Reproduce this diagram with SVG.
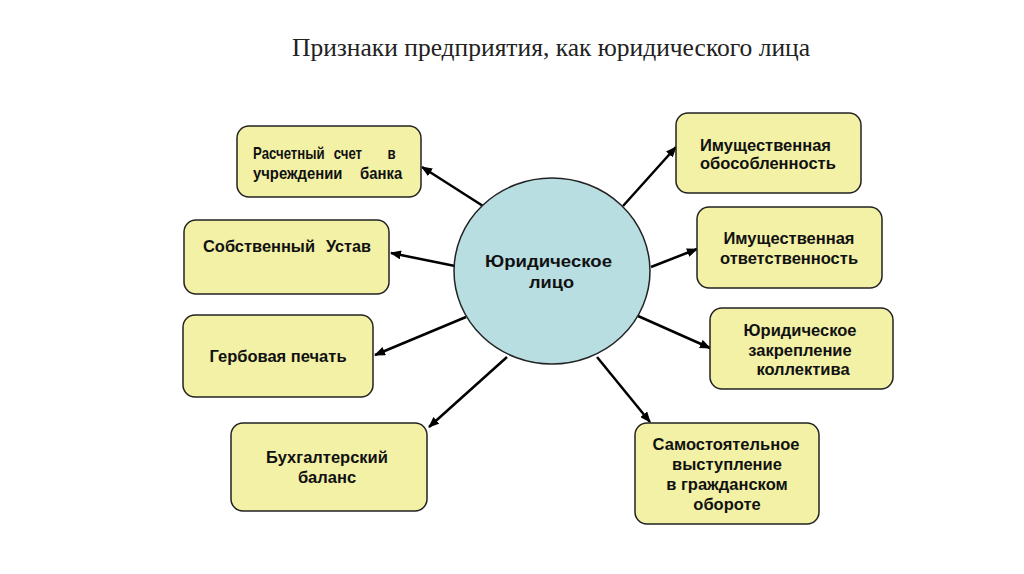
<svg xmlns="http://www.w3.org/2000/svg" width="1024" height="574" viewBox="0 0 1024 574">
<defs>
<marker id="ah" markerWidth="11" markerHeight="9" refX="10" refY="4.5" orient="auto" markerUnits="userSpaceOnUse">
<path d="M0,0 L11,4.5 L0,9 Z" fill="#000"/>
</marker>
<style>
.box{fill:#F3F1A6;stroke:#222;stroke-width:1.5}
.t{font-family:"Liberation Sans",Arial,sans-serif;font-weight:bold;font-size:16.5px;fill:#111}
.c{text-anchor:middle}
.ln{stroke:#000;stroke-width:2.5;fill:none;marker-end:url(#ah)}
</style>
</defs>
<rect width="1024" height="574" fill="#fff"/>
<text x="551" y="56" text-anchor="middle" font-family="Liberation Serif,Times New Roman,serif" font-size="25.5" fill="#222">Признаки предприятия, как юридического лица</text>
<g id="connectors">
<line class="ln" x1="483" y1="206" x2="422" y2="167"/>
<line class="ln" x1="455" y1="266" x2="391" y2="253"/>
<line class="ln" x1="466" y1="317" x2="375" y2="355"/>
<line class="ln" x1="507" y1="357" x2="429" y2="427"/>
<line class="ln" x1="623" y1="206" x2="676" y2="147"/>
<line class="ln" x1="651" y1="267" x2="697" y2="249"/>
<line class="ln" x1="638" y1="316" x2="710" y2="348"/>
<line class="ln" x1="597" y1="357" x2="650" y2="422"/>
</g>
<g id="center">
<ellipse cx="552" cy="271" rx="98" ry="93" fill="#B8DEE2" stroke="#222" stroke-width="1.5"/>
<text class="t" x="485" y="267" font-size="19" textLength="127" lengthAdjust="spacingAndGlyphs">Юридическое</text>
<text class="t" x="529" y="288" font-size="19" textLength="45" lengthAdjust="spacingAndGlyphs">лицо</text>
</g>
<g id="n1">
<rect class="box" x="237" y="126" width="184" height="71" rx="12"/>
<g transform="translate(253,159) scale(0.8,1)">
<text class="t" x="0" y="0">Расчетный</text>
<text class="t" x="101" y="0">счет</text>
<text class="t" x="168" y="0">в</text>
</g>
<g transform="translate(253,179) scale(0.9,1)">
<text class="t" x="0" y="0">учреждении</text>
<text class="t" x="119" y="0">банка</text>
</g>
</g>
<g id="n2">
<rect class="box" x="184" y="220" width="205" height="74" rx="12"/>
<text class="t" x="203" y="252" textLength="112" lengthAdjust="spacingAndGlyphs">Собственный</text>
<text class="t" x="326" y="252" textLength="45" lengthAdjust="spacingAndGlyphs">Устав</text>
</g>
<g id="n3">
<rect class="box" x="183" y="315" width="190" height="82" rx="12"/>
<text class="t c" x="278" y="362">Гербовая печать</text>
</g>
<g id="n4">
<rect class="box" x="231" y="423" width="196" height="88" rx="12"/>
<text class="t c" x="327" y="463">Бухгалтерский</text>
<text class="t c" x="327" y="483">баланс</text>
</g>
<g id="n5">
<rect class="box" x="676" y="113" width="185" height="80" rx="12"/>
<text class="t" x="700" y="151">Имущественная</text>
<text class="t" x="700" y="169">обособленность</text>
</g>
<g id="n6">
<rect class="box" x="697" y="207" width="185" height="81" rx="12"/>
<text class="t c" x="789" y="244">Имущественная</text>
<text class="t c" x="789" y="264">ответственность</text>
</g>
<g id="n7">
<rect class="box" x="710" y="308" width="183" height="81" rx="12"/>
<text class="t c" x="800" y="336">Юридическое</text>
<text class="t c" x="800" y="356">закрепление</text>
<text class="t c" x="803" y="375">коллектива</text>
</g>
<g id="n8">
<rect class="box" x="635" y="423" width="184" height="101" rx="12"/>
<text class="t c" x="726" y="450">Самостоятельное</text>
<text class="t c" x="727" y="470">выступление</text>
<text class="t c" x="727" y="490">в гражданском</text>
<text class="t c" x="727" y="510">обороте</text>
</g>
</svg>
